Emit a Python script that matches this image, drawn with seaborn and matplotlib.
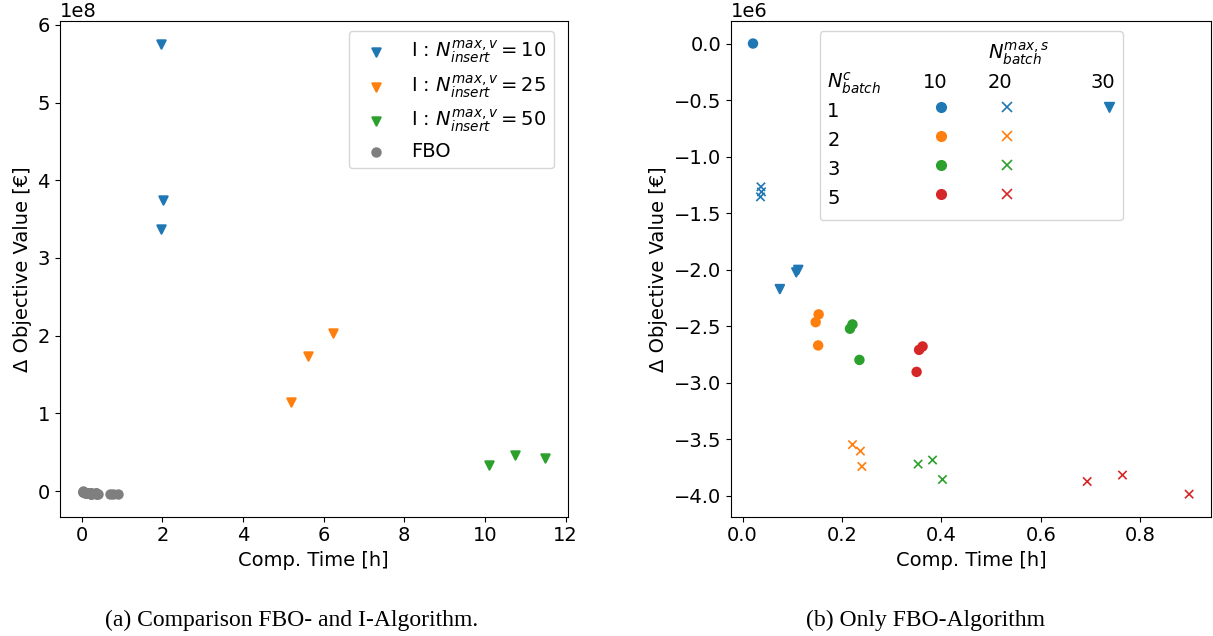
import numpy as np
import pandas as pd
import seaborn as sns
import matplotlib.pyplot as plt
from matplotlib.lines import Line2D
from matplotlib.legend_handler import HandlerLine2D

# left plot: I-algorithm runs (comp. time [h], delta objective [EUR])
ins10_t = [1.97, 2.02, 1.97]
ins10_v = [5.76e8, 3.74e8, 3.37e8]
ins25_t = [5.19, 5.62, 6.23]
ins25_v = [1.15e8, 1.74e8, 2.03e8]
ins50_t = [10.10, 10.75, 11.48]
ins50_v = [0.33e8, 0.47e8, 0.43e8]

# right plot: FBO runs, grouped by N_c batch and N_max,s batch
nc_levels = [1, 2, 3, 5]
smax_levels = [10, 20, 30]
fbo_nc = [1, 1, 1, 1, 1, 1, 1,
          2, 2, 2, 2, 2, 2,
          3, 3, 3, 3, 3, 3,
          5, 5, 5, 5, 5, 5]
fbo_smax = [10, 20, 20, 20, 30, 30, 30,
            10, 10, 10, 20, 20, 20,
            10, 10, 10, 20, 20, 20,
            10, 10, 10, 20, 20, 20]
fbo_t = [0.021, 0.037, 0.038, 0.036, 0.075, 0.108, 0.112,
         0.153, 0.147, 0.152, 0.221, 0.237, 0.240,
         0.221, 0.216, 0.235, 0.353, 0.382, 0.402,
         0.362, 0.355, 0.350, 0.693, 0.764, 0.898]
fbo_v = [0.0, -1.268e6, -1.313e6, -1.357e6, -2.173e6, -2.025e6, -2.003e6,
         -2.397e6, -2.466e6, -2.672e6, -3.550e6, -3.607e6, -3.743e6,
         -2.486e6, -2.524e6, -2.800e6, -3.722e6, -3.686e6, -3.858e6,
         -2.681e6, -2.711e6, -2.906e6, -3.876e6, -3.819e6, -3.988e6]

nc_colors = {1: 'tab:blue', 2: 'tab:orange', 3: 'tab:green', 5: 'tab:red'}
smax_markers = {10: 'o', 20: 'x', 30: 'v'}

fbo = pd.DataFrame({'t': fbo_t, 'dv': fbo_v, 'nc': fbo_nc, 'smax': fbo_smax})


class ShiftedMarker(HandlerLine2D):
    # draws the legend marker a bit to the right of the entry start
    def __init__(self, shift, **kw):
        super().__init__(**kw)
        self.shift = shift

    def get_xdata(self, legend, xdescent, ydescent, width, height, fontsize):
        xdata, xm = super().get_xdata(legend, xdescent, ydescent, width, height, fontsize)
        off = self.shift * fontsize
        return [x + off for x in xdata], [x + off for x in xm]


plt.rcParams['font.size'] = 14
plt.rcParams['axes.unicode_minus'] = True

fig = plt.figure(figsize=(12.13, 6.36), dpi=100)
ax1 = fig.add_axes([0.0491, 0.1876, 0.4189, 0.7794])
ax2 = fig.add_axes([0.6028, 0.1876, 0.3955, 0.7794])

# ---- left: FBO vs I-algorithm
series = [(ins10_t, ins10_v, 'tab:blue', r'I : $N_{insert}^{max,v} = 10$'),
          (ins25_t, ins25_v, 'tab:orange', r'I : $N_{insert}^{max,v} = 25$'),
          (ins50_t, ins50_v, 'tab:green', r'I : $N_{insert}^{max,v} = 50$')]
for t, v, c, lab in series:
    sns.scatterplot(x=t, y=v, color=c, marker='v', s=36, edgecolor='face',
                    linewidth=1.5, label=lab, ax=ax1)
sns.scatterplot(data=fbo, x='t', y='dv', color='tab:gray', marker='o', s=36,
                edgecolor='face', linewidth=1.5, label='FBO', ax=ax1)
ax1.legend(loc='upper right', bbox_to_anchor=(0.992, 1.0), fontsize=14,
           labelspacing=0.4)
ax1.set_xlabel('Comp. Time [h]')
ax1.set_ylabel('Δ Objective Value [€]')
ax1.set_xticks([0, 2, 4, 6, 8, 10, 12])

# ---- right: only FBO
for sm in smax_levels:
    sub = fbo[fbo['smax'] == sm]
    m = smax_markers[sm]
    kw = dict(edgecolor='face', linewidth=1.5) if m != 'x' else dict(linewidth=1.2)
    sns.scatterplot(data=sub, x='t', y='dv', hue='nc', palette=nc_colors,
                    marker=m, s=36, legend=False, ax=ax2, **kw)
ax2.set_xlabel('Comp. Time [h]')
ax2.set_ylabel('Δ Objective Value [€]')

# table-like legend: first column = N_c labels, then one column per N_max,s
blank = Line2D([], [], linestyle='none', marker='')
handles, labels = [], []
col1 = ['', r'$N_{batch}^{c}$'] + [str(n) for n in nc_levels]
for lab in col1:
    handles.append(blank)
    labels.append(lab)
for sm in smax_levels:
    head = r'$N_{batch}^{max,s}$' if sm == 20 else ''
    handles += [blank, blank]
    labels += [head, str(sm)]
    for n in nc_levels:
        present = ((fbo['nc'] == n) & (fbo['smax'] == sm)).any()
        if present:
            handles.append(Line2D([], [], linestyle='none', marker=smax_markers[sm],
                                  color=nc_colors[n], markersize=7,
                                  markeredgewidth=1.2 if sm == 20 else 1.0))
        else:
            handles.append(blank)
        labels.append('')
ax2.legend(handles, labels, ncol=4, loc='upper center', fontsize=14,
           handlelength=0, handletextpad=0, handleheight=1.92,
           labelspacing=0, columnspacing=2.1,
           handler_map={Line2D: ShiftedMarker(0.98)})

fig.text(0.240, 0.025, '(a) Comparison FBO- and I-Algorithm.', ha='center',
         va='center', family='Liberation Serif', fontsize=17)
fig.text(0.763, 0.025, '(b) Only FBO-Algorithm', ha='center',
         va='center', family='Liberation Serif', fontsize=17)

fig.savefig('out.png', dpi=100)
